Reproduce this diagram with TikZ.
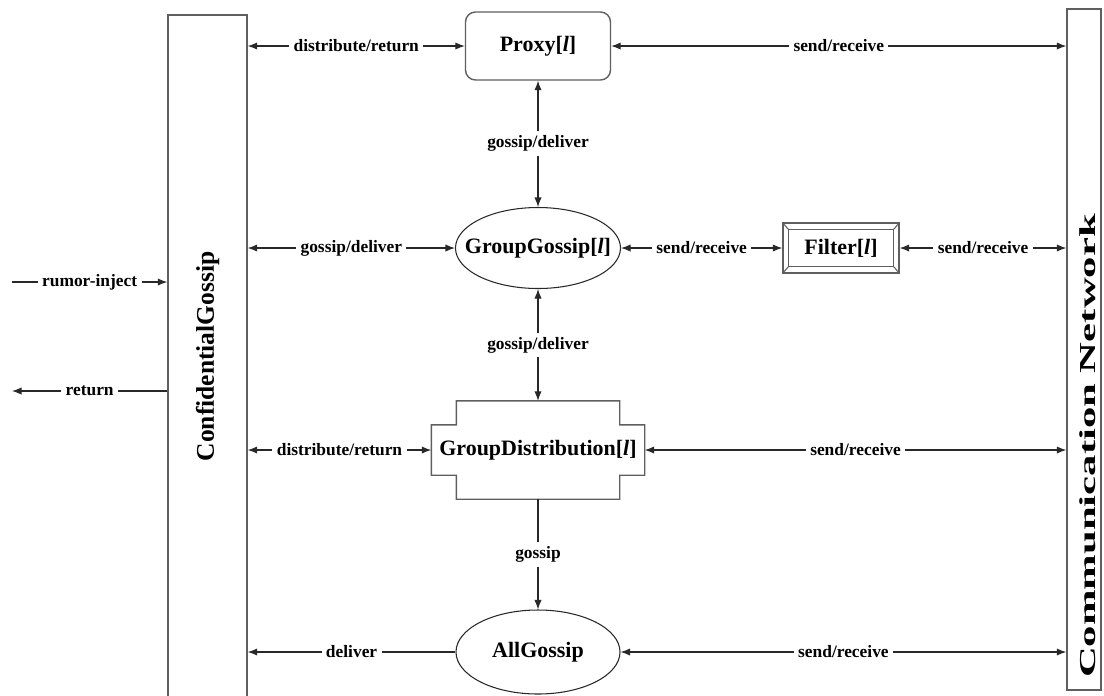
\documentclass[tikz,border=0pt]{standalone}
\usepackage{fontspec}
\setmainfont{Liberation Serif}
\usepackage{tikz}
\usetikzlibrary{arrows.meta, shapes.geometric, positioning}
\usepackage{xcolor}
\definecolor{framegray}{RGB}{95, 95, 95}
\definecolor{wiregray}{RGB}{40, 40, 40}
\newcommand{\lidx}{[\textit{l}]}

\begin{document}
\begin{tikzpicture}[node distance=4.04cm,
    >={Latex[length=1.9mm, width=1.45mm]},
    link/.style={wiregray, line width=0.6pt},
    lbl/.style={fill=white, inner sep=2.5pt, text=black, font=\bfseries\fontsize{9.9}{11}\selectfont},
    unit/.style={draw=framegray, line width=0.8pt, inner sep=0pt, font=\bfseries\fontsize{12.5}{14}\selectfont}]
    \useasboundingbox (0,0) rectangle (22.08,-13.9);

    \node[unit, rectangle, minimum width=1.58cm, minimum height=13.66cm, font=\bfseries\fontsize{14.5}{16}\selectfont] (confidential) at (4.15,-7.13) {\rotatebox{90}{ConfidentialGossip}};
    \node[unit, rectangle, minimum width=0.68cm, minimum height=13.62cm] (network) at (21.68,-6.99) {};
    \node[inner sep=0pt, font=\bfseries\fontsize{13}{15}\selectfont] (nettext) at (21.76,-8.92) {\rotatebox{90}{\scalebox{1.87}[1]{Communication Network}}};

    \node[unit, rectangle, rounded corners=0.2cm, minimum width=2.9cm, minimum height=1.36cm] (proxy) at (10.76,-0.92) {Proxy\lidx};
    \node[unit, ellipse, draw=wiregray, line width=0.6pt, minimum width=3.3cm, minimum height=1.62cm, below of=proxy] (groupgossip) {\makebox[0pt]{GroupGossip\lidx}};
    \node[unit, rectangle, draw=none, minimum width=4.24cm, minimum height=0.98cm, below of=groupgossip] (groupdist) {GroupDistribution\lidx};
    \node[unit, ellipse, draw=wiregray, line width=0.6pt, minimum width=3.28cm, minimum height=1.68cm, below of=groupdist] (allgossip) {\makebox[0pt]{AllGossip}};
    \node[unit, rectangle, minimum width=2.32cm, minimum height=1cm, right of=groupgossip, xshift=2.02cm] (filter) {Filter\lidx};

    % filter frame
    \draw[framegray, line width=0.6pt] ([shift={(0.12,-0.14)}]filter.north west) rectangle ([shift={(-0.12,0.14)}]filter.south east);
    \foreach \c/\dx/\dy in {north west/0.12/-0.14, north east/-0.12/-0.14, south west/0.12/0.14, south east/-0.12/0.14}
        \draw[framegray, line width=0.6pt] (filter.\c) -- ++(\dx,\dy);

    % stepped outline of the distribution unit
    \draw[framegray, line width=0.8pt] (groupdist.north west) -- ++(0.5,0) |- ([xshift=-0.5cm, yshift=0.48cm]groupdist.north east) -- ++(0,-0.48) -- (groupdist.north east) -- (groupdist.south east) -- ++(-0.5,0) |- ([xshift=0.5cm, yshift=-0.48cm]groupdist.south west) -- ++(0,0.48) -- (groupdist.south west) -- cycle;
    \coordinate (gdtop) at ([yshift=0.48cm]groupdist.north);
    \coordinate (gdbottom) at ([yshift=-0.48cm]groupdist.south);

    \coordinate (inject) at (0.24,-5.64);
    \coordinate (back) at (0.24,-7.82);

    \draw[link, <->] (confidential.east |- proxy) -- node[lbl] {distribute/return} (proxy);
    \draw[link, <->] (proxy) -- node[lbl] {send/receive} (network.west |- proxy);
    \draw[link, <->] (proxy) -- node[lbl] {gossip/deliver} (groupgossip);
    \draw[link, <->] (confidential.east |- groupgossip) -- node[lbl] {gossip/deliver} (groupgossip);
    \draw[link, <->] (groupgossip) -- node[lbl] {send/receive} (filter);
    \draw[link, <->] (filter) -- node[lbl] {send/receive} (network.west |- filter);
    \draw[link, <->] (groupgossip) -- node[lbl] {gossip/deliver} (gdtop);
    \draw[link, <->] (confidential.east |- groupdist) -- node[lbl] {distribute/return} (groupdist);
    \draw[link, <->] (groupdist) -- node[lbl] {send/receive} (network.west |- groupdist);
    \draw[link, ->] (gdbottom) -- node[lbl] {gossip} (allgossip);
    \draw[link, ->] (allgossip) -- node[lbl] {deliver} (confidential.east |- allgossip);
    \draw[link, <->] (allgossip) -- node[lbl] {send/receive} (network.west |- allgossip);
    \draw[link, ->] (inject) -- node[lbl] {rumor-inject} (confidential.west |- inject);
    \draw[link, ->] (confidential.west |- back) -- node[lbl] {return} (back);
\end{tikzpicture}
\end{document}
